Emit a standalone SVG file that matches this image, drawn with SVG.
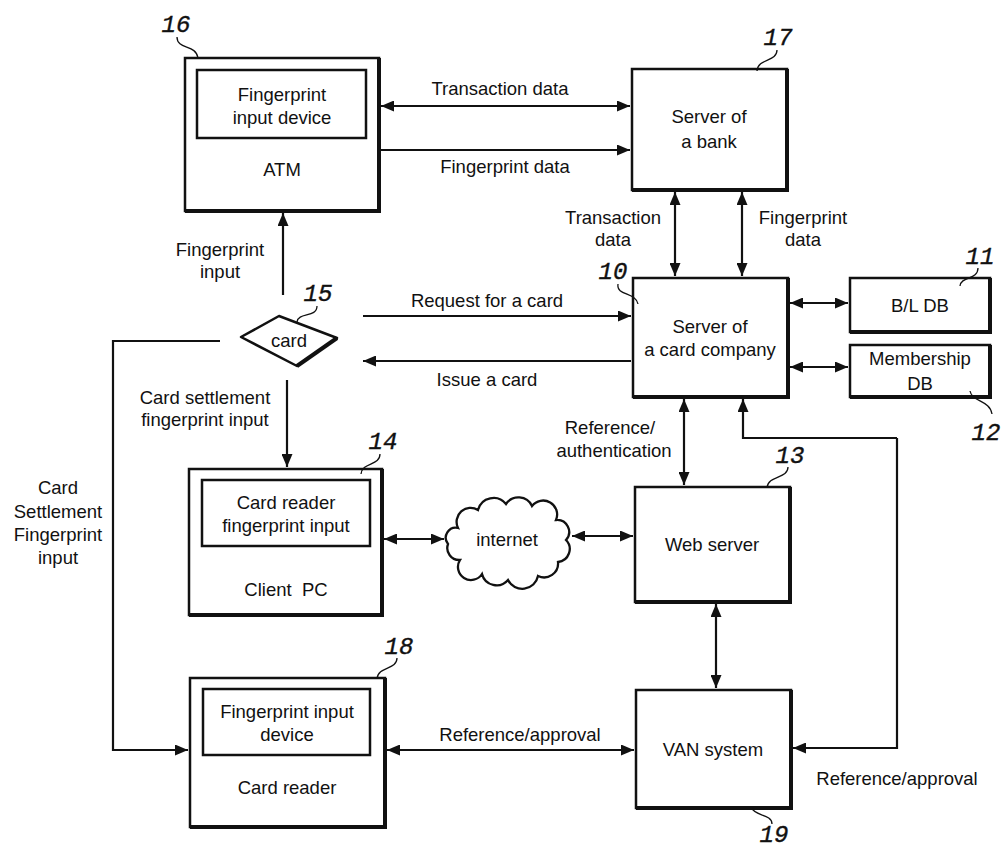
<svg xmlns="http://www.w3.org/2000/svg" width="1006" height="848" viewBox="0 0 1006 848">
<style>
.box{fill:none;stroke:#111;stroke-width:2.5}
.sh{fill:none;stroke:#111;stroke-width:4}
.in{fill:none;stroke:#111;stroke-width:2.5}
.t{font-family:"Liberation Sans",Arial,sans-serif;font-size:18.5px;fill:#111;text-anchor:middle}
.n{font-family:"Liberation Mono","DejaVu Sans Mono",monospace;font-style:italic;font-size:24px;fill:#111;text-anchor:middle;stroke:#111;stroke-width:0.4}
.c{fill:none;stroke:#111;stroke-width:2.2}
.l{fill:none;stroke:#111;stroke-width:1.3}
</style>
<defs>
<marker id="a" markerUnits="userSpaceOnUse" markerWidth="13" markerHeight="11" refX="13" refY="5.5" orient="auto-start-reverse">
<path d="M0,0 L13,5.5 L0,11 z" fill="#111"/>
</marker>
</defs>
<rect width="1006" height="848" fill="#fff"/>

<g id="connectors">
<line class="c" x1="381" y1="106" x2="630" y2="106" marker-start="url(#a)" marker-end="url(#a)"/>
<line class="c" x1="381" y1="150" x2="630" y2="150" marker-end="url(#a)"/>
<line class="c" x1="675" y1="192" x2="675" y2="276" marker-start="url(#a)" marker-end="url(#a)"/>
<line class="c" x1="742" y1="192" x2="742" y2="276" marker-start="url(#a)" marker-end="url(#a)"/>
<line class="c" x1="790" y1="303" x2="848" y2="303" marker-start="url(#a)" marker-end="url(#a)"/>
<line class="c" x1="790" y1="367" x2="848" y2="367" marker-start="url(#a)" marker-end="url(#a)"/>
<line class="c" x1="283" y1="295" x2="283" y2="213" marker-end="url(#a)"/>
<line class="c" x1="363" y1="316" x2="631" y2="316" marker-end="url(#a)"/>
<line class="c" x1="631" y1="361" x2="363" y2="361" marker-end="url(#a)"/>
<polyline class="c" points="220,341 113,341 113,750 188,750" marker-end="url(#a)"/>
<line class="c" x1="287" y1="380" x2="287" y2="467" marker-end="url(#a)"/>
<line class="c" x1="384" y1="539" x2="444" y2="539" marker-start="url(#a)" marker-end="url(#a)"/>
<line class="c" x1="572" y1="536" x2="633" y2="536" marker-start="url(#a)" marker-end="url(#a)"/>
<line class="c" x1="684" y1="399" x2="684" y2="485" marker-start="url(#a)" marker-end="url(#a)"/>
<polyline class="c" points="897,438 897,748 793,748" marker-end="url(#a)"/>
<polyline class="c" points="897,438 743,438 743,399" marker-end="url(#a)"/>
<line class="c" x1="716" y1="604" x2="716" y2="688" marker-start="url(#a)" marker-end="url(#a)"/>
<line class="c" x1="387" y1="750" x2="634" y2="750" marker-start="url(#a)" marker-end="url(#a)"/>
<text class="t" x="500" y="95">Transaction data</text>
<text class="t" x="505" y="173">Fingerprint data</text>
<text class="t" x="613" y="224">Transaction</text>
<text class="t" x="613" y="246">data</text>
<text class="t" x="803" y="224">Fingerprint</text>
<text class="t" x="803" y="246">data</text>
<text class="t" x="220" y="256">Fingerprint</text>
<text class="t" x="220" y="278">input</text>
<text class="t" x="487" y="307">Request for a card</text>
<text class="t" x="487" y="386">Issue a card</text>
<text class="t" x="205" y="404">Card settlement</text>
<text class="t" x="205" y="426">fingerprint input</text>
<text class="t" x="610" y="434">Reference/</text>
<text class="t" x="614" y="457">authentication</text>
<text class="t" x="520" y="741">Reference/approval</text>
<text class="t" x="897" y="785">Reference/approval</text>
<text class="t" x="58" y="494">Card</text>
<text class="t" x="58" y="518">Settlement</text>
<text class="t" x="58" y="541">Fingerprint</text>
<text class="t" x="58" y="564">input</text>
</g>

<g id="atm16">
<rect class="box" x="185" y="58" width="194" height="153"/>
<polyline class="sh" points="379,58 379,211 185,211"/>
<rect class="in" x="197" y="70" width="169" height="68"/>
<text class="t" x="282" y="101">Fingerprint</text>
<text class="t" x="282" y="124">input device</text>
<text class="t" x="282" y="176">ATM</text>
<text class="n" x="176" y="32">16</text>
<path class="l" d="M177,37 C177,50 196,44 198,58"/>
</g>

<g id="bank17">
<rect class="box" x="632" y="69" width="155" height="121"/>
<polyline class="sh" points="787,69 787,190 632,190"/>
<text class="t" x="709" y="123">Server of</text>
<text class="t" x="709" y="148">a bank</text>
<text class="n" x="778" y="45">17</text>
<path class="l" d="M777,50 C777,62 758,58 757,71"/>
</g>

<g id="card15">
<polygon points="241,337 279,316 337,338 297,366" fill="#fff" stroke="#111" stroke-width="2.5" stroke-linejoin="round"/>
<line x1="337" y1="338" x2="297" y2="366" stroke="#111" stroke-width="4"/>
<text class="t" x="289" y="347">card</text>
<text class="n" x="318" y="301">15</text>
<path class="l" d="M317,306 C317,318 298,312 297,322"/>
</g>

<g id="cardco10">
<rect class="box" x="633" y="278" width="155" height="119"/>
<polyline class="sh" points="788,278 788,397 633,397"/>
<text class="t" x="710" y="333">Server of</text>
<text class="t" x="710" y="356">a card company</text>
<text class="n" x="613" y="279">10</text>
<path class="l" d="M618,284 C616,296 636,292 638,304"/>
</g>

<g id="bldb11">
<rect class="box" x="850" y="278" width="140" height="54"/>
<polyline class="sh" points="990,278 990,332 850,332"/>
<text class="t" x="920" y="312">B/L DB</text>
<text class="n" x="980" y="264">11</text>
<path class="l" d="M978,268 C978,280 961,276 960,286"/>
</g>

<g id="memdb12">
<rect class="box" x="850" y="345" width="140" height="52"/>
<polyline class="sh" points="990,345 990,397 850,397"/>
<text class="t" x="920" y="365">Membership</text>
<text class="t" x="920" y="390">DB</text>
<text class="n" x="986" y="440">12</text>
<path class="l" d="M970,391 C972,402 990,400 992,414"/>
</g>

<g id="clientpc14">
<rect class="box" x="189" y="469" width="193" height="146"/>
<polyline class="sh" points="382,469 382,615 189,615"/>
<rect class="in" x="202" y="480" width="168" height="66"/>
<text class="t" x="286" y="509">Card reader</text>
<text class="t" x="286" y="532">fingerprint input</text>
<text class="t" x="286" y="596" style="white-space:pre">Client  PC</text>
<text class="n" x="383" y="449">14</text>
<path class="l" d="M380,454 C380,466 362,462 361,474"/>
</g>

<g id="internet">
<path d="M458,528 a14,14 0 0 1 20,-18 a16,16 0 0 1 28,-6 a15,15 0 0 1 26,2 a14,14 0 0 1 24,14 a12,12 0 0 1 10,20 a13,13 0 0 1 -8,22 a14,14 0 0 1 -20,14 a16,16 0 0 1 -30,4 a15,15 0 0 1 -26,-6 a13,13 0 0 1 -22,-14 a12,12 0 0 1 -12,-16 a10,10 0 0 1 10,-16 z" fill="#fff" stroke="#111" stroke-width="2.3"/>
<text class="t" x="507" y="546">internet</text>
</g>

<g id="web13">
<rect class="box" x="635" y="487" width="155" height="115"/>
<polyline class="sh" points="790,487 790,602 635,602"/>
<text class="t" x="712" y="551">Web server</text>
<text class="n" x="790" y="463">13</text>
<path class="l" d="M788,467 C788,479 768,475 767,488"/>
</g>

<g id="cardreader18">
<rect class="box" x="190" y="678" width="195" height="149"/>
<polyline class="sh" points="385,678 385,827 190,827"/>
<rect class="in" x="203" y="689" width="167" height="66"/>
<text class="t" x="287" y="718">Fingerprint input</text>
<text class="t" x="287" y="741">device</text>
<text class="t" x="287" y="794">Card reader</text>
<text class="n" x="399" y="654">18</text>
<path class="l" d="M397,658 C397,670 378,666 377,679"/>
</g>

<g id="van19">
<rect class="box" x="636" y="690" width="155" height="118"/>
<polyline class="sh" points="791,690 791,808 636,808"/>
<text class="t" x="713" y="756">VAN system</text>
<text class="n" x="774" y="842">19</text>
<path class="l" d="M752,808 C754,816 772,814 772,824"/>
</g>
</svg>
